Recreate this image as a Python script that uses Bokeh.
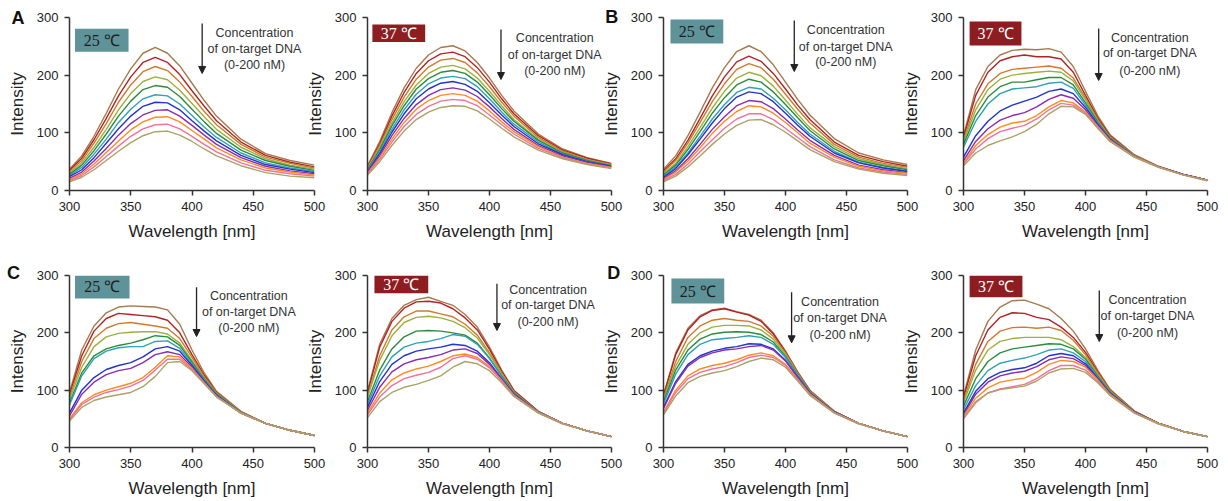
from bokeh.plotting import figure
from bokeh.layouts import row, column
from bokeh.models import Range1d, FixedTicker, BoxAnnotation, Label, Arrow, NormalHead
from bokeh.embed import file_html
from bokeh.resources import INLINE

# ---------------- data ----------------
wavelength = [300, 310, 320, 330, 340, 350, 360, 370, 380, 390, 400, 410, 420, 440, 460, 480, 500]
x_ticks = [300, 350, 400, 450, 500]
y_ticks = [0, 100, 200, 300]
series_colors = ["#A57A4C", "#B22327", "#D07A2E", "#9DB03F", "#2E8B3E", "#2FA2B5",
                 "#2233CC", "#8A2CB3", "#FF8B1F", "#F0709E", "#A9A364"]
arrow_text = ["Concentration", "of on-target DNA", "(0-200 nM)"]

A25 = [
    [37, 60, 94, 134, 176, 211, 238, 248, 238, 216, 186, 156, 129, 89, 64, 52, 44],
    [35, 56, 88, 125, 164, 197, 222, 231, 222, 201, 173, 146, 121, 84, 61, 49, 41],
    [33, 52, 82, 116, 153, 183, 206, 215, 208, 188, 163, 137, 114, 80, 58, 47, 39],
    [30, 48, 75, 106, 140, 168, 189, 197, 192, 174, 151, 128, 106, 75, 55, 44, 37],
    [28, 44, 69, 98, 129, 155, 175, 182, 179, 163, 141, 119, 99, 70, 52, 42, 35],
    [26, 40, 63, 89, 118, 141, 159, 166, 164, 150, 130, 110, 92, 65, 48, 39, 33],
    [24, 36, 57, 82, 107, 129, 146, 153, 152, 140, 121, 103, 86, 61, 45, 37, 31],
    [21, 32, 51, 73, 96, 116, 131, 139, 140, 129, 113, 96, 80, 57, 42, 34, 29],
    [19, 29, 46, 66, 86, 105, 119, 127, 128, 119, 104, 89, 74, 53, 39, 32, 27],
    [17, 26, 41, 59, 77, 94, 107, 114, 115, 107, 94, 80, 67, 48, 35, 29, 25],
    [15, 23, 36, 52, 68, 83, 95, 102, 103, 96, 85, 72, 60, 43, 31, 25, 22],
]
A37 = [
    [43, 85, 135, 178, 212, 235, 248, 251, 242, 222, 195, 165, 138, 98, 72, 57, 47],
    [41, 81, 129, 170, 203, 225, 237, 240, 232, 213, 188, 159, 133, 95, 70, 56, 46],
    [40, 78, 123, 162, 193, 214, 226, 229, 222, 204, 180, 153, 129, 92, 68, 54, 45],
    [38, 74, 117, 154, 183, 203, 214, 217, 211, 195, 172, 147, 123, 89, 66, 53, 44],
    [36, 71, 112, 147, 176, 194, 205, 208, 203, 188, 166, 142, 120, 87, 65, 52, 43],
    [35, 67, 106, 140, 167, 185, 195, 198, 194, 180, 159, 136, 115, 84, 63, 51, 42],
    [33, 64, 101, 133, 159, 176, 186, 189, 184, 172, 152, 131, 111, 81, 62, 50, 42],
    [32, 60, 95, 125, 149, 165, 175, 178, 174, 163, 145, 125, 106, 78, 60, 49, 41],
    [30, 57, 89, 118, 141, 156, 165, 168, 165, 155, 138, 119, 102, 76, 58, 47, 40],
    [29, 54, 84, 111, 132, 146, 155, 158, 156, 147, 131, 114, 98, 73, 57, 46, 39],
    [27, 50, 78, 103, 123, 136, 144, 147, 146, 138, 124, 108, 93, 70, 55, 45, 38],
]
B25 = [
    [37, 60, 95, 136, 178, 213, 241, 251, 241, 218, 188, 158, 131, 90, 65, 53, 45],
    [34, 55, 87, 125, 164, 197, 223, 233, 224, 203, 176, 148, 123, 84, 61, 50, 42],
    [32, 52, 82, 118, 154, 185, 210, 220, 213, 193, 167, 141, 117, 80, 58, 47, 40],
    [29, 47, 76, 109, 143, 172, 195, 205, 199, 181, 157, 132, 109, 76, 55, 45, 38],
    [27, 44, 71, 102, 134, 161, 183, 193, 188, 171, 149, 126, 104, 72, 52, 43, 36],
    [25, 41, 65, 94, 124, 149, 170, 179, 176, 160, 140, 118, 98, 68, 49, 40, 34],
    [23, 38, 62, 89, 117, 142, 162, 171, 168, 154, 134, 113, 94, 65, 48, 39, 33],
    [21, 34, 55, 80, 106, 128, 147, 156, 154, 142, 124, 105, 87, 61, 44, 36, 31],
    [19, 32, 51, 74, 99, 120, 137, 147, 145, 134, 118, 100, 82, 58, 42, 34, 30],
    [17, 28, 46, 67, 88, 108, 124, 133, 133, 123, 108, 92, 76, 53, 39, 32, 28],
    [15, 25, 41, 60, 80, 98, 113, 122, 123, 114, 101, 86, 71, 50, 37, 30, 26],
]
B37 = [
    [95, 175, 215, 235, 243, 245, 244, 246, 240, 215, 172, 130, 97, 62, 42, 28, 18],
    [92, 165, 205, 225, 232, 235, 232, 232, 228, 205, 165, 126, 95, 61, 41, 28, 18],
    [88, 150, 185, 203, 210, 212, 214, 216, 212, 195, 160, 123, 93, 61, 41, 28, 18],
    [85, 140, 175, 193, 200, 203, 205, 207, 205, 190, 157, 121, 92, 60, 41, 28, 18],
    [80, 130, 162, 180, 188, 188, 192, 196, 196, 183, 152, 119, 91, 60, 41, 28, 18],
    [75, 120, 150, 168, 176, 178, 180, 186, 188, 177, 148, 117, 90, 60, 41, 28, 18],
    [58, 95, 120, 138, 148, 155, 162, 172, 176, 168, 144, 115, 89, 59, 41, 28, 18],
    [52, 85, 107, 122, 130, 135, 145, 158, 166, 160, 140, 113, 88, 59, 41, 28, 18],
    [48, 78, 97, 110, 117, 120, 130, 145, 156, 152, 136, 111, 87, 59, 41, 27, 18],
    [46, 72, 90, 102, 108, 113, 124, 140, 151, 148, 134, 110, 86, 58, 40, 27, 17],
    [43, 65, 78, 86, 93, 102, 115, 133, 146, 145, 132, 108, 85, 58, 40, 27, 17],
]
C25 = [
    [96, 170, 212, 235, 245, 247, 246, 245, 240, 215, 170, 130, 98, 63, 42, 30, 21],
    [92, 160, 203, 225, 234, 232, 230, 228, 222, 200, 162, 126, 96, 62, 42, 30, 21],
    [88, 150, 190, 208, 216, 218, 215, 212, 208, 190, 157, 123, 95, 62, 42, 30, 21],
    [84, 140, 176, 193, 199, 201, 202, 202, 198, 182, 152, 121, 94, 61, 42, 30, 21],
    [78, 130, 160, 172, 178, 182, 188, 195, 193, 178, 149, 119, 93, 61, 42, 30, 21],
    [74, 125, 155, 168, 174, 176, 176, 185, 186, 173, 146, 118, 92, 61, 42, 30, 21],
    [60, 100, 122, 136, 143, 148, 158, 172, 176, 168, 143, 116, 91, 60, 42, 30, 21],
    [55, 93, 114, 127, 134, 138, 148, 162, 167, 162, 140, 114, 90, 60, 42, 30, 21],
    [50, 78, 92, 100, 106, 112, 122, 140, 160, 158, 138, 113, 89, 60, 42, 30, 21],
    [48, 75, 88, 96, 101, 107, 117, 135, 154, 154, 136, 112, 89, 60, 42, 30, 21],
    [46, 70, 82, 88, 92, 96, 106, 124, 148, 150, 134, 111, 88, 60, 42, 30, 21],
]
C37 = [
    [98, 180, 225, 248, 258, 262, 255, 248, 232, 210, 175, 135, 100, 63, 42, 29, 19],
    [95, 175, 220, 243, 254, 255, 252, 242, 226, 205, 171, 133, 99, 63, 42, 29, 19],
    [90, 160, 205, 228, 238, 238, 233, 228, 215, 196, 165, 130, 97, 62, 42, 29, 19],
    [88, 152, 195, 218, 227, 229, 226, 220, 209, 191, 162, 128, 96, 62, 42, 29, 19],
    [80, 135, 172, 193, 203, 204, 203, 200, 196, 182, 156, 125, 95, 62, 42, 29, 19],
    [75, 125, 158, 175, 182, 185, 190, 197, 194, 180, 155, 124, 94, 62, 42, 29, 19],
    [70, 115, 145, 160, 168, 172, 175, 180, 178, 168, 148, 120, 93, 61, 42, 29, 19],
    [65, 105, 132, 146, 153, 157, 162, 170, 172, 164, 145, 119, 92, 61, 42, 29, 19],
    [60, 95, 118, 130, 137, 142, 150, 160, 163, 157, 141, 117, 91, 61, 42, 29, 19],
    [57, 88, 108, 120, 126, 131, 140, 155, 160, 154, 139, 116, 90, 61, 42, 29, 19],
    [52, 80, 96, 105, 110, 117, 125, 140, 150, 146, 134, 113, 89, 60, 41, 29, 19],
]
D25 = [
    [92, 165, 208, 230, 240, 243, 237, 232, 222, 200, 168, 132, 100, 63, 42, 29, 19],
    [90, 162, 205, 228, 239, 242, 236, 231, 220, 198, 167, 131, 99, 63, 42, 29, 19],
    [86, 150, 192, 212, 222, 225, 222, 220, 212, 194, 165, 130, 98, 63, 42, 29, 19],
    [84, 142, 180, 200, 210, 213, 213, 212, 205, 189, 162, 128, 97, 62, 42, 29, 19],
    [80, 135, 170, 189, 198, 201, 202, 201, 197, 184, 159, 127, 96, 62, 42, 29, 19],
    [76, 128, 162, 180, 188, 190, 192, 195, 192, 180, 157, 126, 96, 62, 42, 29, 19],
    [70, 115, 145, 160, 168, 173, 176, 181, 180, 172, 152, 123, 95, 62, 42, 29, 19],
    [68, 112, 142, 157, 165, 170, 172, 176, 178, 170, 151, 122, 94, 61, 42, 29, 19],
    [62, 100, 125, 137, 143, 147, 153, 161, 165, 160, 145, 119, 93, 61, 42, 29, 19],
    [60, 96, 120, 131, 137, 141, 148, 157, 161, 157, 143, 118, 92, 61, 42, 29, 19],
    [57, 90, 113, 124, 130, 134, 141, 150, 156, 153, 140, 116, 91, 60, 41, 29, 19],
]
D37 = [
    [90, 170, 220, 245, 256, 257, 250, 242, 225, 203, 172, 135, 102, 64, 42, 28, 19],
    [87, 160, 205, 227, 235, 234, 227, 223, 210, 192, 166, 132, 100, 63, 42, 28, 19],
    [82, 145, 185, 203, 209, 210, 208, 210, 204, 187, 162, 130, 99, 63, 42, 28, 19],
    [78, 135, 170, 185, 190, 192, 192, 192, 188, 176, 157, 127, 98, 62, 42, 28, 19],
    [72, 120, 150, 165, 172, 175, 178, 181, 180, 172, 154, 125, 97, 62, 42, 28, 19],
    [66, 108, 134, 147, 152, 156, 162, 170, 172, 165, 150, 123, 96, 62, 42, 28, 19],
    [60, 98, 120, 131, 136, 139, 147, 160, 164, 160, 146, 121, 95, 62, 42, 28, 19],
    [57, 93, 114, 125, 130, 133, 141, 153, 158, 155, 143, 119, 94, 61, 42, 28, 19],
    [54, 86, 104, 114, 118, 121, 131, 145, 152, 150, 140, 118, 93, 61, 42, 28, 19],
    [50, 78, 95, 102, 106, 110, 120, 134, 143, 143, 135, 115, 92, 61, 41, 28, 19],
    [52, 80, 95, 101, 104, 107, 116, 130, 137, 138, 131, 113, 91, 60, 41, 28, 19],
]

# ---------------- styling / placement ----------------
FONT = "Liberation Sans"
FRAME_W = 245
AXIS_COL = "#333333"
temp_style = {
    "25 ℃": dict(fill="#5E9399", text="#1e1e1e"),
    "37 ℃": dict(fill="#8E1D21", text="#ffffff"),
}


def make_panel(curves, temp, box, arrow, txt, letter, row_geom, col_geom):
    top, frame_h, bottom = row_geom
    left, right, ml = col_geom
    p = figure(width=left + FRAME_W + right, height=top + frame_h + bottom,
               x_range=Range1d(300, 500), y_range=Range1d(0, 300),
               output_backend="svg", toolbar_location=None,
               min_border_left=left, min_border_right=right,
               min_border_top=top, min_border_bottom=bottom,
               margin=(0, 0, 0, ml))
    p.border_fill_alpha = 0
    p.background_fill_color = "white"
    p.outline_line_color = None
    p.xgrid.visible = False
    p.ygrid.visible = False

    for ys, c in zip(curves, series_colors):
        p.line(wavelength, ys, line_color=c, line_width=1.4)

    p.xaxis.ticker = FixedTicker(ticks=x_ticks)
    p.yaxis.ticker = FixedTicker(ticks=y_ticks)
    p.xaxis.axis_label = "Wavelength [nm]"
    p.yaxis.axis_label = "Intensity"
    for ax in (p.xaxis, p.yaxis):
        ax.axis_line_color = AXIS_COL
        ax.axis_line_width = 1.5
        ax.major_tick_line_color = AXIS_COL
        ax.major_tick_line_width = 1.5
        ax.major_tick_out = 5
        ax.major_tick_in = 0
        ax.minor_tick_line_color = None
        ax.major_label_text_font = FONT
        ax.major_label_text_font_size = "13px"
        ax.major_label_text_color = "#222222"
        ax.major_label_standoff = 6
        ax.axis_label_text_font = FONT
        ax.axis_label_text_font_size = "17px"
        ax.axis_label_text_font_style = "normal"
        ax.axis_label_text_color = "#222222"
        ax.axis_label_standoff = 8
    p.yaxis.axis_label_standoff = 7

    st = temp_style[temp]
    bl, br, bt, bb = box
    p.add_layout(BoxAnnotation(left=bl, right=br, top=bt, bottom=bb,
                               fill_color=st["fill"], fill_alpha=1, line_color=None))
    p.add_layout(Label(x=(bl + br) / 2, y=(bt + bb) / 2, text=temp,
                       text_align="center", text_baseline="middle",
                       text_font="Liberation Serif", text_font_size="16px",
                       text_color=st["text"]))

    ax_x, ay0, ay1 = arrow
    p.add_layout(Arrow(end=NormalHead(size=7, fill_color="#222222", line_color="#222222", line_width=1),
                       x_start=ax_x, y_start=ay0, x_end=ax_x, y_end=ay1,
                       line_color="#222222", line_width=1.3))
    tx, tys = txt
    for s, ty in zip(arrow_text, tys):
        p.add_layout(Label(x=tx, y=ty, text=s, text_align="center", text_baseline="middle",
                           text_font=FONT, text_font_size="12.5px", text_color="#333333"))
    if letter is not None:
        ch, lx, ly = letter
        # placed in a side panel so it is not clipped to the frame; position comes from data units
        p.add_layout(Label(x=lx, y=ly, text=ch, text_align="center", text_baseline="middle",
                           text_font=FONT, text_font_size="18px", text_font_style="bold",
                           text_color="#111111"), "right")
    return p


row1_geom = (17, 173, 59)
row2_geom = (26, 172, 53)
cols = [(69, 16, 0), (64, 16, -28), (64, 16, -29), (64, 14, -25)]

panels_row1 = [
    (A25, "25 ℃", (304.5, 348.2, 280.5, 240.5), (408.3, 289.6, 203.0), (451.0, (272.3, 244.6, 216.8)), ("A", 258.0, 300.0)),
    (A37, "37 ℃", (304.0, 347.3, 288.0, 257.5), (409.4, 279.2, 192.5), (453.5, (263.6, 235.8, 206.4)), None),
    (B25, "25 ℃", (305.7, 349.0, 296.5, 255.0), (407.2, 294.8, 206.4), (449.4, (277.5, 249.7, 222.0)), ("B", 257.6, 301.7)),
    (B37, "37 ℃", (305.0, 347.5, 293.0, 251.5), (410.8, 280.9, 190.8), (452.7, (263.6, 237.6, 206.4)), None),
]
panels_row2 = [
    (C25, "25 ℃", (304.5, 349.0, 300.0, 260.0), (403.7, 279.6, 193.6), (446.4, (263.9, 236.0, 208.0)), ("C", 254.3, 305.2)),
    (C37, "37 ℃", (305.7, 349.8, 300.0, 269.0), (406.1, 285.5, 204.1), (448.0, (275.0, 247.7, 218.5)), None),
    (D25, "25 ℃", (306.5, 349.8, 294.8, 251.0), (405.0, 270.9, 182.6), (444.7, (253.4, 225.5, 196.6)), ("D", 259.2, 303.5)),
    (D37, "37 ℃", (305.0, 348.3, 300.0, 262.0), (411.3, 273.8, 184.8), (450.8, (257.6, 228.5, 199.4)), None),
]

r1 = row([make_panel(*pr, row1_geom, cg) for pr, cg in zip(panels_row1, cols)])
r2 = row([make_panel(*pr, row2_geom, cg) for pr, cg in zip(panels_row2, cols)])
layout = column(r1, r2)

open("out.html", "w").write(file_html(layout, INLINE))
